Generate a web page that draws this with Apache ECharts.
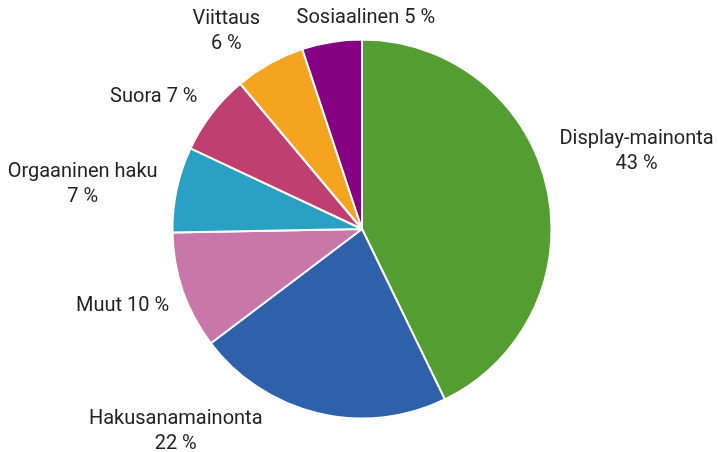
<!DOCTYPE html>
<html><head><meta charset="utf-8">
<script src="https://cdn.jsdelivr.net/npm/echarts@6/dist/echarts.min.js"></script>
<style>html,body{margin:0;padding:0;background:#fff}#c{width:718px;height:452px}</style>
</head><body><div id="c"></div>
<script>
const categories = ['Display-mainonta','Hakusanamainonta','Muut','Orgaaninen haku','Suora','Viittaus','Sosiaalinen'];
const values = [42.8,21.9,10.0,7.3,6.9,6.0,5.1];
const colors = ['#549e31','#2f61ab','#c977ab','#2aa0c4','#bf4070','#f5a420','#850083'];
const twoLine = [true,true,false,true,false,true,false];
// label nudges (px) relative to the mid-angle anchored position
const labelNudge = [[3,-27],[-119,-18],[-5,7],[-9,3],[-14,-1],[-21,0],[47,0]];

const CX = 362, CY = 229, R = 189.5, GAP = 12;
const total = values.reduce((a,b)=>a+b,0);
const midAngles = [];
{ let acc = 0; values.forEach(v=>{ midAngles.push((acc + v/2)/total*2*Math.PI); acc += v; }); }

const chart = echarts.init(document.getElementById('c'));
chart.setOption({
  animation:false,
  series:[{
    type:'pie',
    center:[CX,CY],
    radius:R,
    startAngle:90,
    clockwise:true,
    avoidLabelOverlap:false,
    data:categories.map((n,i)=>({name:n,value:values[i],itemStyle:{color:colors[i]}})),
    itemStyle:{borderColor:'#fff',borderWidth:2},
    label:{
      show:true,position:'outside',overflow:'none',
      fontFamily:'Roboto',fontSize:20,color:'#222',lineHeight:25,
      formatter:p=> p.name + (twoLine[p.dataIndex]?'\n':' ') + Math.round(p.percent) + ' %'
    },
    labelLine:{show:false,length:10,length2:0},
    labelLayout:function(params){
      const i = params.dataIndex;
      const a = midAngles[i];
      const dx = Math.sin(a), dy = -Math.cos(a);
      const w = params.labelRect.width, h = params.labelRect.height;
      const px = CX + dx*(R+GAP), py = CY + dy*(R+GAP);
      return {
        x: px + dx*w/2 + labelNudge[i][0],
        y: py + dy*h/2 + labelNudge[i][1],
        align:'center', verticalAlign:'middle'
      };
    }
  }]
});
</script></body></html>
